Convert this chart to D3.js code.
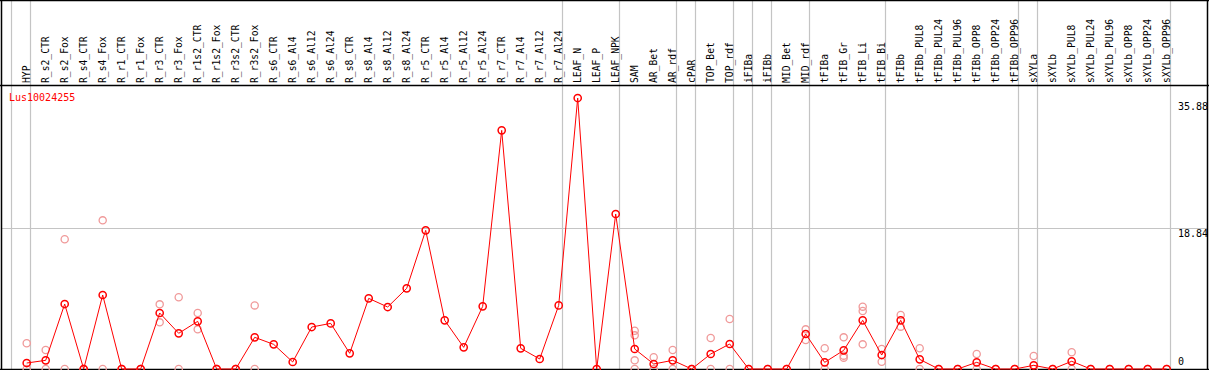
<!DOCTYPE html>
<html>
<head>
<meta charset="utf-8">
<script src="https://cdn.jsdelivr.net/npm/d3@7"></script>
<style>
  html, body { margin: 0; padding: 0; background: #fff; }
  svg { display: block; }
  text { font-family: "DejaVu Sans Mono", monospace; }
</style>
</head>
<body>
<div id="chart"></div>
<script>
const geneName = 'Lus10024255';

const samples = [
  'HYP', 'R_s2_CTR', 'R_s2_Fox', 'R_s4_CTR', 'R_s4_Fox', 'R_r1_CTR', 'R_r1_Fox',
  'R_r3_CTR', 'R_r3_Fox', 'R_r1s2_CTR', 'R_r1s2_Fox', 'R_r3s2_CTR', 'R_r3s2_Fox',
  'R_s6_CTR', 'R_s6_Al4', 'R_s6_Al12', 'R_s6_Al24', 'R_s8_CTR', 'R_s8_Al4',
  'R_s8_Al12', 'R_s8_Al24', 'R_r5_CTR', 'R_r5_Al4', 'R_r5_Al12', 'R_r5_Al24',
  'R_r7_CTR', 'R_r7_Al4', 'R_r7_Al12', 'R_r7_Al24', 'LEAF_N', 'LEAF_P', 'LEAF_NPK',
  'SAM', 'AR_Bet', 'AR_rdf', 'cPAR', 'TOP_Bet', 'TOP_rdf', 'iFIBa', 'iFIBb',
  'MID_Bet', 'MID_rdf', 'tFIBa', 'tFIB_Gr', 'tFIB_Li', 'tFIB_Bi', 'tFIBb',
  'tFIBb_PUL8', 'tFIBb_PUL24', 'tFIBb_PUL96', 'tFIBb_OPP8', 'tFIBb_OPP24', 'tFIBb_OPP96',
  'sXYLa', 'sXYLb', 'sXYLb_PUL8', 'sXYLb_PUL24', 'sXYLb_PUL96', 'sXYLb_OPP8',
  'sXYLb_OPP24', 'sXYLb_OPP96'
];

// mean expression per sample
const means = [
  0.80, 1.16, 8.70, 0, 9.91, 0, 0,
  7.50, 4.78, 6.38, 0, 0, 4.24,
  3.30, 0.94, 5.62, 6.11, 2.10, 9.46,
  8.30, 10.80, 18.57, 6.52, 2.90, 8.39,
  31.96, 2.77, 1.34, 8.52, 36.29, 0, 20.76,
  2.68, 0.67, 1.16, 0, 2.01, 3.35, 0, 0,
  0, 4.69, 0.89, 2.50, 6.52, 1.87, 6.52,
  1.29, 0, 0, 0.89, 0, 0,
  0.49, 0, 1.03, 0, 0, 0,
  0, 0
];

// individual replicates (drawn pale)
const replicates = [
  [3.44, 0], [2.54, 0], [17.37, 0], [0, 0], [19.91, 0], [0, 0], [0, 0],
  [8.66, 6.25], [9.60, 0], [7.50, 5.31], [0, 0], [0, 0], [8.52, 0],
  [], [], [], [], [], [],
  [], [], [], [], [], [],
  [], [], [], [], [], [], [],
  [5.13, 4.51, 1.16, 0], [1.57, 0], [2.54, 0], [0], [4.15, 0], [6.70, 0], [0], [0],
  [0], [5.31, 3.88], [2.77, 0], [4.24, 1.79, 1.52], [8.35, 7.77, 3.30], [2.68, 0.98], [7.23, 5.67],
  [2.77, 0], [0], [0], [2.01, 0], [0], [0],
  [1.74, 0], [0], [2.24, 0], [0], [0], [0],
  [0], [0]
];

// sample index where a new group starts (grey divider)
const groupStarts = [0, 1, 29, 32, 35, 36, 38, 39, 40, 42, 46, 53, 54, 61];

const yTicks = [0, 18.84, 35.88];

const width = 1209;
const height = 370;
const headerBottom = 85;
const plotBottom = 369;

const svg = d3.select('#chart')
  .append('svg')
  .attr('width', width)
  .attr('height', height);

const x = d3.scaleLinear()
  .domain([0, samples.length - 1])
  .range([26.7, 26.7 + 19 * (samples.length - 1)]);

const y = d3.scaleLinear()
  .domain([0, 35.88])
  .range([plotBottom, 101.1]);

// grey group dividers
svg.append('g')
  .selectAll('line')
  .data(groupStarts)
  .join('line')
  .attr('x1', d => Math.round(x(d) - 15.5) + 0.5)
  .attr('x2', d => Math.round(x(d) - 15.5) + 0.5)
  .attr('y1', 0)
  .attr('y2', plotBottom)
  .style('stroke', '#c4c4c4')
  .style('stroke-width', 1.2);

// horizontal grid at middle tick
svg.append('line')
  .attr('x1', 1)
  .attr('x2', 1207)
  .attr('y1', Math.round(y(18.84)) + 0.5)
  .attr('y2', Math.round(y(18.84)) + 0.5)
  .style('stroke', '#c4c4c4')
  .style('stroke-width', 1.2);

// frame
const frame = svg.append('g').style('stroke', '#000').style('stroke-width', 1.5);
frame.append('line').attr('x1', 0).attr('x2', width).attr('y1', 0.5).attr('y2', 0.5);
frame.append('line').attr('x1', 0).attr('x2', width).attr('y1', headerBottom + 0.5).attr('y2', headerBottom + 0.5);
frame.append('line').attr('x1', 0).attr('x2', width).attr('y1', plotBottom + 0.5).attr('y2', plotBottom + 0.5);
frame.append('line').attr('x1', 1.5).attr('x2', 1.5).attr('y1', 0).attr('y2', height);
frame.append('line').attr('x1', 1207.5).attr('x2', 1207.5).attr('y1', 0).attr('y2', height);

// sample labels, rotated
svg.append('g')
  .selectAll('text')
  .data(samples)
  .join('text')
  .attr('transform', (d, i) => `translate(${x(i) + 3.5},${headerBottom - 2}) rotate(-90)`)
  .attr('text-anchor', 'start')
  .style('font-size', '9.7px')
  .style('fill', '#000')
  .text(d => d);

// y tick labels on the right
svg.append('g')
  .selectAll('text')
  .data(yTicks)
  .join('text')
  .attr('x', 1178)
  .attr('y', d => d === 0 ? y(d) - 4 : y(d) + 9)
  .style('font-size', '10px')
  .style('fill', '#000')
  .text(d => d === 0 ? '0' : d.toFixed(2));

// gene name
svg.append('text')
  .attr('x', 9)
  .attr('y', 101)
  .style('font-size', '10px')
  .style('fill', '#ff0000')
  .text(geneName);

// replicate points
const repPoints = replicates.flatMap((vals, i) => vals.map(v => ({ i, v })));
svg.append('g')
  .selectAll('circle')
  .data(repPoints)
  .join('circle')
  .attr('cx', d => x(d.i))
  .attr('cy', d => y(d.v))
  .attr('r', 3.6)
  .style('fill', 'none')
  .style('stroke', '#f09a9a')
  .style('stroke-width', 1.3);

// mean line
const line = d3.line()
  .x((d, i) => x(i))
  .y(d => y(d));

svg.append('path')
  .datum(means)
  .attr('d', line)
  .style('fill', 'none')
  .style('stroke', '#ff0000')
  .style('stroke-width', 1);

svg.append('g')
  .selectAll('circle')
  .data(means)
  .join('circle')
  .attr('cx', (d, i) => x(i))
  .attr('cy', d => y(d))
  .attr('r', 3.6)
  .style('fill', 'none')
  .style('stroke', '#ff0000')
  .style('stroke-width', 1.5);
</script>
</body>
</html>
